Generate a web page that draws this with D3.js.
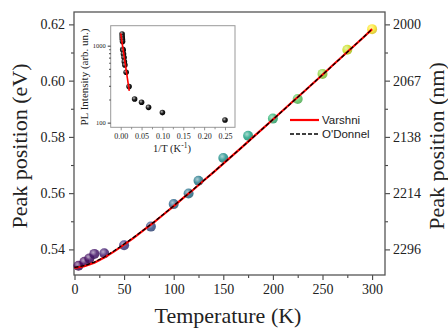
<!DOCTYPE html>
<html><head><meta charset="utf-8">
<script src="https://cdn.jsdelivr.net/npm/d3@7"></script>
<style>body{margin:0;background:#fff}svg{display:block}</style>
</head><body><svg id="c" width="448" height="331"></svg>
<script>
// ---------- data ----------
const temps = [4,10,15,20,30,50,77,100,115,125,150,175,200,225,250,275,300];
const peakEV = [0.5342,0.5356,0.5368,0.5384,0.5386,0.5415,0.5481,0.5561,0.5599,0.5644,0.5725,0.5804,0.5865,0.5935,0.6024,0.6110,0.6183];
const fitT = [0,10,20,30,40,50,60,70,80,90,100,110,120,130,140,150,160,170,180,190,200,210,220,230,240,250,260,270,280,290,300];
const varshniEV = [0.5334,0.5340,0.5353,0.5371,0.5393,0.5417,0.5442,0.5469,0.5496,0.5525,0.5554,0.5584,0.5613,0.5644,0.5674,0.5705,0.5736,0.5767,0.5799,0.5830,0.5862,0.5894,0.5926,0.5957,0.5989,0.6021,0.6054,0.6086,0.6118,0.6150,0.6183];
const odonnellEV = [0.5336,0.5342,0.5355,0.5373,0.5395,0.5419,0.5444,0.5470,0.5497,0.5526,0.5555,0.5584,0.5614,0.5644,0.5674,0.5705,0.5736,0.5767,0.5798,0.5830,0.5862,0.5893,0.5925,0.5957,0.5989,0.6021,0.6053,0.6085,0.6118,0.6150,0.6183];
const leftTicks = [0.54,0.56,0.58,0.60,0.62];
const leftMinor = [0.55,0.57,0.59,0.61];
const rightTickLabels = ["2296","2214","2138","2067","2000"];
const xTicks = [0,50,100,150,200,250,300];
const xMinor = [25,75,125,175,225,275];
const invT = [0.0033,0.0036,0.0040,0.0044,0.0050,0.0057,0.0067,0.0080,0.0087,0.0100,0.0130,0.0200,0.0333,0.0500,0.0667,0.1000,0.2500];
const plIntensity = [1420,1300,1210,1130,900,870,780,700,620,560,452,294,203,184,158,135,108];
const arrhInvT = [0.0, 0.0205];
const arrhI = [1450, 258];
const insetXTicks = [0,0.05,0.10,0.15,0.20,0.25];
const insetXMinor = [0.025,0.075,0.125,0.175,0.225];
const insetYTicks = [100,1000];
const insetYMinor = [200,300,400,500,600,700,800,900];
const legendLabels = ["Varshni","O'Donnel"];

// ---------- drawing ----------
const svg = d3.select("#c");
const serif = "'Liberation Serif', 'DejaVu Serif', serif";
const sans = "'Liberation Sans', Arial, sans-serif";
const defs = svg.append("defs");

const x = d3.scaleLinear().domain([-0.5,313]).range([74,385]);
const y = d3.scaleLinear().domain([0.5309,0.6244]).range([275,12]);
const color = d3.scaleSequential(d3.interpolateViridis).domain([0,300]);

function styleAxis(g, fs) {
  g.select(".domain").remove();
  g.selectAll("line").attr("stroke","#444").attr("stroke-width",1.1);
  g.selectAll("text").attr("font-family",serif).attr("font-size",fs).attr("fill","#222");
}

// axes
svg.append("g").attr("transform","translate(0,275)")
  .call(d3.axisBottom(x).tickValues(xTicks).tickSize(5).tickPadding(4).tickFormat(d3.format("d")))
  .call(g=>styleAxis(g,14));
svg.append("g").attr("transform","translate(0,275)")
  .call(d3.axisBottom(x).tickValues(xMinor).tickSize(3).tickFormat(""))
  .call(g=>styleAxis(g,14));
svg.append("g").attr("transform","translate(74,0)")
  .call(d3.axisLeft(y).tickValues(leftTicks).tickSize(5).tickPadding(4).tickFormat(d3.format(".2f")))
  .call(g=>styleAxis(g,14));
svg.append("g").attr("transform","translate(74,0)")
  .call(d3.axisLeft(y).tickValues(leftMinor).tickSize(3).tickFormat(""))
  .call(g=>styleAxis(g,14));
svg.append("g").attr("transform","translate(385,0)")
  .call(d3.axisRight(y).tickValues(leftTicks).tickSize(5).tickPadding(3).tickFormat((d,i)=>rightTickLabels[i]))
  .call(g=>styleAxis(g,14));
svg.append("g").attr("transform","translate(385,0)")
  .call(d3.axisRight(y).tickValues(leftMinor).tickSize(3).tickFormat(""))
  .call(g=>styleAxis(g,14));

// frame
svg.append("rect").attr("x",74).attr("y",12).attr("width",311).attr("height",263)
  .attr("fill","none").attr("stroke","#555").attr("stroke-width",1.3);

// titles
svg.append("text").attr("x",228).attr("y",323).attr("text-anchor","middle")
  .attr("font-family",serif).attr("font-size",22).attr("fill","#222").text("Temperature (K)");
svg.append("text").attr("transform","translate(27,146) rotate(-90)").attr("text-anchor","middle")
  .attr("font-family",serif).attr("font-size",22).attr("fill","#222").text("Peak position (eV)");
svg.append("text").attr("transform","translate(444,146) rotate(-90)").attr("text-anchor","middle")
  .attr("font-family",serif).attr("font-size",22).attr("fill","#222").text("Peak position (nm)");

// points (glossy spheres)
temps.forEach((t,i)=>{
  const c = color(t);
  const gr = defs.append("radialGradient").attr("id","g"+i).attr("cx","38%").attr("cy","35%").attr("r","65%");
  gr.append("stop").attr("offset","0%").attr("stop-color",d3.interpolateRgb(c,"#fff")(0.55));
  gr.append("stop").attr("offset","55%").attr("stop-color",c);
  gr.append("stop").attr("offset","100%").attr("stop-color",d3.color(c).darker(0.5));
});
svg.append("g").selectAll("circle").data(temps).join("circle")
  .attr("cx",d=>x(d)).attr("cy",(d,i)=>y(peakEV[i])).attr("r",5)
  .attr("fill",(d,i)=>`url(#g${i})`).attr("fill-opacity",0.85);

// fit lines
const line = d3.line().x((d,i)=>x(fitT[i])).y(d=>y(d));
svg.append("path").datum(varshniEV).attr("d",line).attr("fill","none").attr("stroke","#ff0000").attr("stroke-width",2.2);
svg.append("path").datum(odonnellEV).attr("d",line).attr("fill","none").attr("stroke","#000").attr("stroke-width",1.3).attr("stroke-dasharray","4,2");

// legend
const lg = svg.append("g");
lg.append("line").attr("x1",290).attr("x2",319).attr("y1",120).attr("y2",120).attr("stroke","#ff0000").attr("stroke-width",2.2);
lg.append("line").attr("x1",290).attr("x2",319).attr("y1",134).attr("y2",134).attr("stroke","#000").attr("stroke-width",1.3).attr("stroke-dasharray","4,2");
lg.selectAll("text").data(legendLabels).join("text")
  .attr("x",322).attr("y",(d,i)=>124+i*14).attr("font-family",sans).attr("font-size",11.5).attr("fill","#222").text(d=>d);

// ---------- inset ----------
const xi = d3.scaleLinear().domain([-0.024,0.274]).range([110.7,235]);
const yi = d3.scaleLog().domain([87,1818]).range([127.3,25.7]);
svg.append("rect").attr("x",110.7).attr("y",25.7).attr("width",124.3).attr("height",101.6)
  .attr("fill","#fff").attr("stroke","#999").attr("stroke-width",1);

svg.append("g").attr("transform","translate(0,127.3)")
  .call(d3.axisBottom(xi).tickValues(insetXTicks).tickSize(3).tickPadding(3).tickFormat(d3.format(".2f")))
  .call(g=>styleAxis(g,8));
svg.append("g").attr("transform","translate(0,127.3)")
  .call(d3.axisBottom(xi).tickValues(insetXMinor).tickSize(2).tickFormat(""))
  .call(g=>styleAxis(g,8));
svg.append("g").attr("transform","translate(110.7,0)")
  .call(d3.axisLeft(yi).tickValues(insetYTicks).tickSize(3).tickPadding(2).tickFormat(d3.format("d")))
  .call(g=>styleAxis(g,6.5));
svg.append("g").attr("transform","translate(110.7,0)")
  .call(d3.axisLeft(yi).tickValues(insetYMinor).tickSize(1.5).tickFormat(""))
  .call(g=>styleAxis(g,6.5));
svg.selectAll("g line").filter(function(){return this.getAttribute("stroke")==="#444" && this.parentNode.parentNode.getAttribute("transform")&&this.parentNode.parentNode.getAttribute("transform").includes("127.3")}).attr("stroke","#777").attr("stroke-width",0.8);

// inset titles
svg.append("text").attr("transform","translate(88,77) rotate(-90)").attr("text-anchor","middle")
  .attr("font-family",serif).attr("font-size",11).attr("fill","#222").text("PL Intensity (arb. un.)");
const it = svg.append("text").attr("x",172).attr("y",152).attr("text-anchor","middle")
  .attr("font-family",serif).attr("font-size",10.5).attr("fill","#222");
it.append("tspan").text("1/T (K");
it.append("tspan").attr("dy",-4).attr("font-size",7.5).text("-1");
it.append("tspan").attr("dy",4).text(")");

// inset points
const ig = defs.append("radialGradient").attr("id","gb").attr("cx","38%").attr("cy","35%").attr("r","65%");
ig.append("stop").attr("offset","0%").attr("stop-color","#bbb");
ig.append("stop").attr("offset","50%").attr("stop-color","#222");
ig.append("stop").attr("offset","100%").attr("stop-color","#000");
svg.append("g").selectAll("circle").data(invT).join("circle")
  .attr("cx",d=>xi(d)).attr("cy",(d,i)=>yi(plIntensity[i])).attr("r",2.8).attr("fill","url(#gb)");
svg.append("path").datum(arrhI).attr("d",d3.line().x((d,i)=>xi(arrhInvT[i])).y(d=>yi(d)))
  .attr("fill","none").attr("stroke","#ff0000").attr("stroke-width",1.6);
</script></body></html>
